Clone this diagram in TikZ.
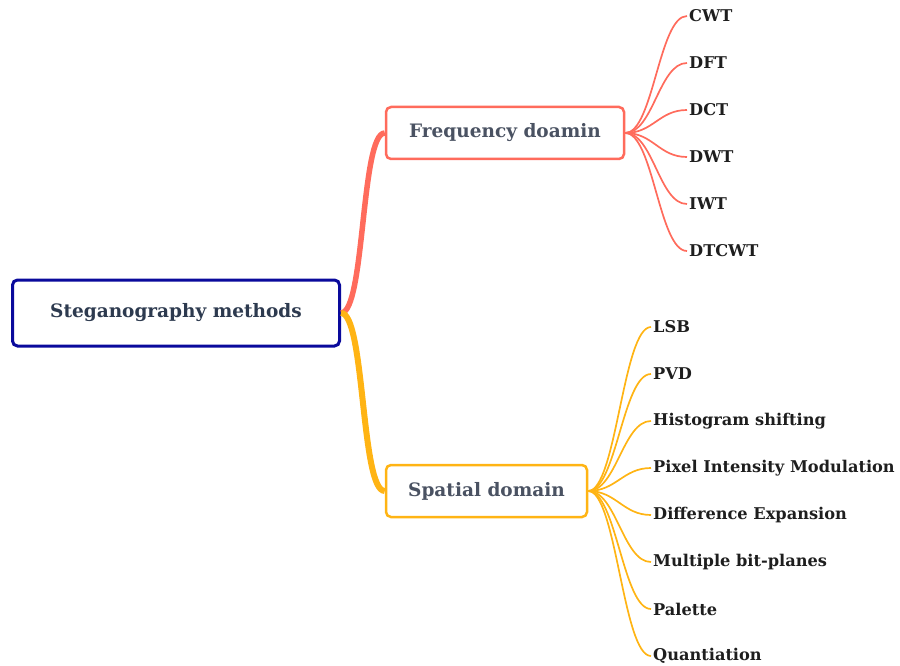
\documentclass[tikz,border=0pt]{standalone}
\usepackage{fontspec}
\setmainfont{DejaVu Serif}
\usepackage{tikz}

\definecolor{rootblue}{HTML}{0A0A9C}
\definecolor{freqred}{HTML}{FF6B5C}
\definecolor{spatyellow}{HTML}{FFB414}
\definecolor{roottext}{HTML}{2D3A4F}
\definecolor{midtext}{HTML}{4A5262}
\definecolor{leaftext}{HTML}{1E1E1E}

\begin{document}
\begin{tikzpicture}[x=1pt,y=-1pt,
    box/.style={draw, rounded corners=5pt, fill=white, minimum height=52pt,
        font=\bfseries\fontsize{18.5}{22}\selectfont},
    leaf/.style={anchor=west, inner sep=2pt, text=leaftext,
        font=\bfseries\fontsize{16.2}{19}\selectfont}]
    \useasboundingbox (0,0) rectangle (900,666);

    \node[box, draw=rootblue, line width=3pt, minimum width=327pt, minimum height=66pt, text=roottext] (root) at (176,313) {Steganography methods};
    \node[box, draw=freqred, line width=2.5pt, minimum width=238pt, text=midtext] (freq) at (505,133) {Frequency doamin};
    \node[box, draw=spatyellow, line width=2.5pt, minimum width=201pt, text=midtext] (spat) at (486.5,491) {Spatial domain};

    \draw[freqred, line width=5.5pt] (root.east) .. controls +(24,0) and +(-24,0) .. (freq.west);
    \draw[spatyellow, line width=6pt] (root.east) .. controls +(24,0) and +(-24,0) .. (spat.west);

    % frequency branch
    \foreach \name/\txt [count=\i] in {cwt/CWT, dft/DFT, dct/DCT, dwt/DWT, iwt/IWT, dtcwt/DTCWT} {
        \node[leaf] (\name) at (687, {16+47*(\i-1)}) {\txt};
        \draw[freqred, line width=1.7pt] (freq.east) .. controls +(28,0) and +(-28,0) .. (\name.west);
    }

    % spatial branch
    \foreach \name/\txt [count=\i] in {lsb/LSB, pvd/PVD, hist/Histogram shifting, pim/Pixel Intensity Modulation,
        diffexp/Difference Expansion, bitpl/Multiple bit-planes, pal/Palette, quant/Quantiation} {
        \node[leaf] (\name) at (651, {327+47*(\i-1)}) {\txt};
        \draw[spatyellow, line width=1.7pt] (spat.east) .. controls +(28,0) and +(-28,0) .. (\name.west);
    }
\end{tikzpicture}
\end{document}
